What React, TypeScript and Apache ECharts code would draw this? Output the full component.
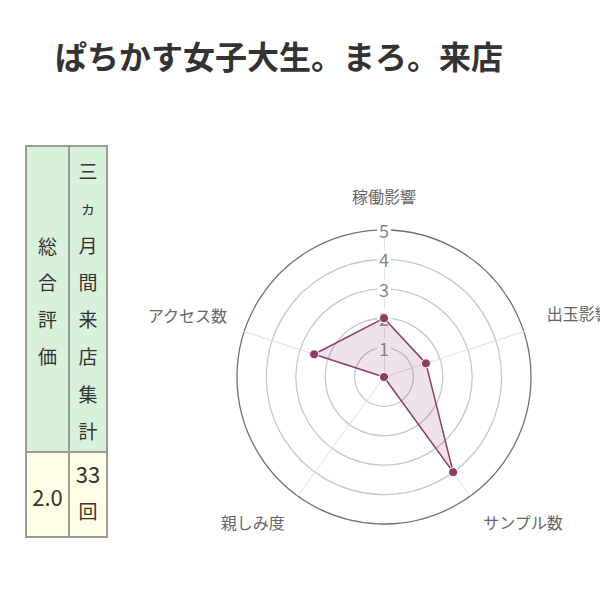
import React, { useEffect, useRef } from "react";
import * as echarts from "echarts";

const TITLE = "ぱちかす女子大生。まろ。来店";
const INDICATORS = ["稼働影響", "アクセス数", "親しみ度", "サンプル数", "出玉影響"];
const VALUES = [2, 2.5, 0, 4, 1.5];
const AXIS_MAX = 5;
const SCORE_HEADER = "総合評価";
const VISIT_HEADER = "三ヵ月間来店集計";
const SCORE_VALUE = "2.0";
const VISIT_VALUE = ["33", "回"];

const FONT = '"Noto Sans CJK JP", "Noto Sans", sans-serif';

// label placement per indicator (layout only)
const NAME_LAYOUT = [
  { gap: 26, align: "center", verticalAlign: "bottom", padding: 0 },
  { gap: 18, align: "right", verticalAlign: "bottom", padding: 3 },
  { gap: 22, align: "right", verticalAlign: "top", padding: 0 },
  { gap: 22, align: "left", verticalAlign: "top", padding: 0 },
  { gap: 24, align: "left", verticalAlign: "bottom", padding: 3 },
];

export default function App() {
  const ref = useRef<HTMLDivElement>(null);

  useEffect(() => {
    if (!ref.current) return;
    const chart = echarts.init(ref.current, null, { renderer: "svg" });
    chart.setOption({
      animation: false,
      textStyle: { fontFamily: FONT },
      title: {
        text: TITLE,
        left: 50,
        top: 34,
        textStyle: { fontSize: 32, fontWeight: "bold", color: "#333", fontFamily: FONT },
      },
      radar: {
        center: [384, 377],
        radius: 147,
        shape: "circle",
        splitNumber: 5,
        startAngle: 90,
        nameGap: 22,
        axisName: { color: "#666", fontSize: 16, fontFamily: FONT },
        indicator: INDICATORS.map((name, i) => {
          const lay = NAME_LAYOUT[i];
          const base: any = {
            name,
            min: 0,
            max: AXIS_MAX,
            nameGap: lay.gap,
            nameTextStyle: {
              align: lay.align,
              verticalAlign: lay.verticalAlign,
              padding: [0, 0, lay.padding, 0],
            },
          };
          if (i === 0) {
            base.axisLabel = {
              show: true,
              margin: 0,
              align: "center",
              verticalAlign: "middle",
              color: "#888",
              fontSize: 18,
              backgroundColor: "#fff",
              padding: [0, 2],
              formatter: (v: number) => (v === 0 ? "" : String(v)),
            };
          }
          return base;
        }),
        axisLine: { lineStyle: { color: "#e0e0e0", width: 1 } },
        splitLine: {
          lineStyle: {
            color: ["#c8c8c8", "#c8c8c8", "#c8c8c8", "#c8c8c8", "#c8c8c8", "#707070"],
            width: 1.3,
          },
        },
        splitArea: { show: false },
        axisTick: { show: false },
      },
      series: [
        {
          type: "radar",
          symbol: "circle",
          symbolSize: 9,
          lineStyle: { color: "#8e3d68", width: 1.5 },
          itemStyle: { color: "#8e3d68", borderColor: "#fff", borderWidth: 1 },
          areaStyle: { color: "rgba(145,60,110,0.2)" },
          data: [{ value: VALUES, name: TITLE }],
        },
      ],
    });
    return () => chart.dispose();
  }, []);

  const border = "2px solid #9a9a9a";
  const cellText: React.CSSProperties = {
    fontFamily: FONT,
    fontSize: 19,
    color: "#333",
    textAlign: "center",
    position: "absolute",
    boxSizing: "border-box",
  };

  return (
    <div style={{ position: "absolute", left: 0, top: 0, width: 600, height: 601, background: "#fff" }}>
      <div ref={ref} style={{ position: "absolute", left: 0, top: 0, width: 600, height: 601 }} />
      <div
        style={{
          ...cellText,
          left: 25,
          top: 145,
          width: 45,
          height: 308,
          background: "#d9f1db",
          border,
          display: "flex",
          alignItems: "center",
          justifyContent: "center",
          lineHeight: "36.7px",
          paddingTop: 4,
        }}
      >
        <div>
          {SCORE_HEADER.split("").map((c, i) => (
            <div key={i}>{c}</div>
          ))}
        </div>
      </div>
      <div
        style={{
          ...cellText,
          left: 68,
          top: 145,
          width: 40,
          height: 308,
          background: "#d9f1db",
          border,
          lineHeight: "37.1px",
          paddingTop: 5,
        }}
      >
        {VISIT_HEADER.split("").map((c, i) => (
          <div key={i} style={c === "ヵ" ? { fontSize: 16 } : undefined}>
            {c}
          </div>
        ))}
      </div>
      <div
        style={{
          ...cellText,
          left: 25,
          top: 451,
          width: 45,
          height: 87,
          background: "#fffde4",
          border,
          display: "flex",
          alignItems: "center",
          justifyContent: "center",
          fontSize: 22,
          paddingTop: 3,
        }}
      >
        {SCORE_VALUE}
      </div>
      <div
        style={{
          ...cellText,
          left: 68,
          top: 451,
          width: 40,
          height: 87,
          background: "#fffde4",
          border,
          lineHeight: "38px",
          paddingTop: 1,
        }}
      >
        <div style={{ fontSize: 22 }}>{VISIT_VALUE[0]}</div>
        <div style={{ fontSize: 19 }}>{VISIT_VALUE[1]}</div>
      </div>
    </div>
  );
}
